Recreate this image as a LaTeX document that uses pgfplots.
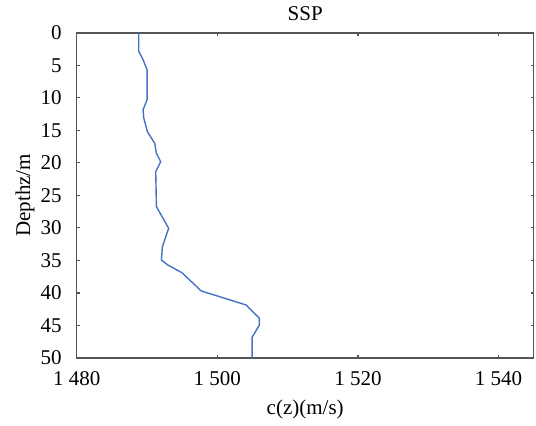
\documentclass[border=0pt]{standalone}
\usepackage{fontspec}
\setmainfont{Liberation Serif}
\usepackage{pgfplots}
\pgfplotsset{compat=1.18}
\definecolor{sspblue}{RGB}{68,114,196}
\definecolor{framegray}{RGB}{85,85,85}
\begin{document}
\fontsize{10.5pt}{12.6pt}\selectfont
\begin{tikzpicture}
\begin{axis}[
  at={(0,0)}, anchor=south west,
  scale only axis, width=228.5pt, height=162.65pt,
  xmin=1480, xmax=1545, ymin=0, ymax=50, y dir=reverse,
  xtick={1480,1500,1520,1540}, ytick={0,5,...,50},
  tick align=inside, major tick length=1.5pt,
  axis line style={draw=framegray, line width=0.8pt},
  every tick/.style={draw=framegray, line width=0.6pt},
  /pgf/number format/assume math mode=true,
  /pgf/number format/1000 sep={\hspace{0.25em}},
  tick label style={font=\fontsize{10.5pt}{12.6pt}\selectfont},
  xticklabel style={anchor=center, yshift=-10.5pt},
  yticklabel style={anchor=east, inner sep=0pt, xshift=-7.3pt},
  title={SSP},
  title style={at={(axis description cs:0.5,1)}, anchor=center, yshift=3.6pt},
  xlabel={c(z)(m/s)},
  xlabel style={at={(axis description cs:0.5,0)}, anchor=center, yshift=-25.5pt},
  ylabel={Depthz/m},
  ylabel style={at={(axis description cs:0,0.5)}, anchor=center, yshift=25.85pt},
]
\addplot[sspblue, line width=0.7pt] coordinates {
(1488.83,0) (1488.83,2.86) (1489.44,4.15) (1490.01,5.69) (1490.01,10.30)
(1489.44,11.84) (1489.54,13.11) (1490.06,15.22) (1491.10,17.00) (1491.34,18.54)
(1491.95,19.83) (1491.24,21.36) (1491.34,26.74) (1493.08,30.06) (1492.19,32.89)
(1492.05,34.94) (1492.98,35.71) (1494.97,36.89) (1497.72,39.70) (1504.10,41.85)
(1505.98,43.90) (1505.98,44.93) (1504.95,46.82) (1504.95,50)
};
\end{axis}
\pgfresetboundingbox
\path[use as bounding box] (-38.35pt,-33.5pt) rectangle (229.65pt,179pt);
\end{tikzpicture}
\end{document}
